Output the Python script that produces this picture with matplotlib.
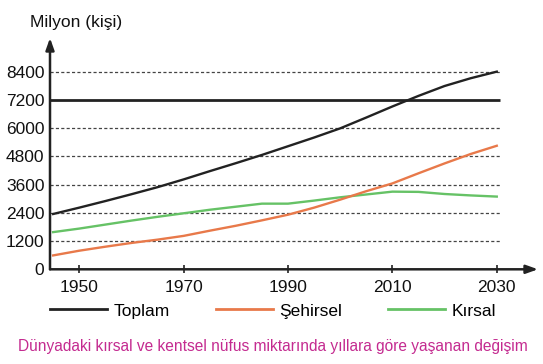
import matplotlib
matplotlib.use("Agg")
import matplotlib.pyplot as plt

plt.rcParams['font.family'] = ['Liberation Sans', 'DejaVu Sans']

years = [1945, 1950, 1955, 1960, 1965, 1970, 1975, 1980, 1985, 1990, 1995,
         2000, 2005, 2010, 2015, 2020, 2025, 2030]
toplam = [2350, 2620, 2900, 3190, 3490, 3820, 4170, 4510, 4860, 5230, 5600,
          5990, 6450, 6920, 7370, 7790, 8120, 8400]
sehirsel = [590, 790, 960, 1120, 1260, 1420, 1640, 1850, 2080, 2320, 2620,
            2960, 3320, 3650, 4080, 4500, 4900, 5250]
kirsal = [1580, 1730, 1900, 2070, 2230, 2380, 2530, 2660, 2790, 2790, 2920,
          3060, 3180, 3300, 3290, 3200, 3140, 3090]

reference_level = 7200
grid_levels = [1200, 2400, 3600, 4800, 6000, 8400]
y_ticks = [0, 1200, 2400, 3600, 4800, 6000, 7200, 8400]
x_ticks = [1950, 1970, 1990, 2010, 2030]

c_black = '#222222'
c_orange = '#e8794a'
c_green = '#66c266'
c_caption = '#c42b90'

W, H = 543, 364
fig = plt.figure(figsize=(W / 100, H / 100), dpi=100)
left, right = 50 / W, 538 / W
bottom, top = (H - 269.3) / H, (H - 38) / H
ax = fig.add_axes([left, bottom, right - left, top - bottom])

ax.set_xlim(1944.4, 2037.9)
ax.set_ylim(0, 9830)

for s in ax.spines.values():
    s.set_visible(False)

for g in grid_levels:
    ax.plot([1944.4, 2030.6], [g, g], color='#444444', lw=0.9,
            ls=(0, (2.5, 1.8)), zorder=1)
ax.plot([1944.4, 2030.6], [reference_level, reference_level], color=c_black,
        lw=2.0, zorder=2, solid_capstyle='butt')

l1, = ax.plot(years, toplam, color=c_black, lw=1.7, zorder=4)
l2, = ax.plot(years, sehirsel, color=c_orange, lw=1.7, zorder=4)
l3, = ax.plot(years, kirsal, color=c_green, lw=1.7, zorder=3)

ax.annotate('', xy=(0, 1), xytext=(0, 0), xycoords='axes fraction',
            arrowprops=dict(arrowstyle='-|>,head_length=0.7,head_width=0.25',
                            color=c_black, lw=1.8, shrinkA=0, shrinkB=0))
ax.annotate('', xy=(1, 0), xytext=(0, 0), xycoords='axes fraction',
            arrowprops=dict(arrowstyle='-|>,head_length=0.7,head_width=0.25',
                            color=c_black, lw=1.8, shrinkA=0, shrinkB=0))

ax.set_yticks(y_ticks)
ax.set_yticklabels([str(v) for v in y_ticks])
ax.set_xticks(x_ticks)
ax.set_xticklabels([str(v) for v in x_ticks])
ax.tick_params(axis='y', length=0, pad=4, labelsize=12.5, labelcolor='#111111')
ax.tick_params(axis='x', direction='inout', length=6, width=1.2, color=c_black,
               pad=5, labelsize=12.5, labelcolor='#111111')

fig.text(30 / W, (H - 23) / H, 'Milyon (kişi)', fontsize=12.5,
         ha='left', va='center', color='#111111')

leg = fig.legend([l1, l2, l3], ['Toplam', 'Şehirsel', 'Kırsal'],
                 loc='center left', bbox_to_anchor=(50 / W, (H - 311) / H),
                 ncol=3, frameon=False, fontsize=12.5, handlelength=3.3,
                 handletextpad=0.35, columnspacing=2.65, borderpad=0,
                 borderaxespad=0)
for h in leg.get_lines():
    h.set_linewidth(2.0)

fig.text(272.5 / W, (H - 347) / H,
         'Dünyadaki kırsal ve kentsel nüfus miktarında yıllara göre yaşanan değişim',
         fontsize=11.2, ha='center', va='center', color=c_caption)

fig.savefig('out.png', dpi=100)
